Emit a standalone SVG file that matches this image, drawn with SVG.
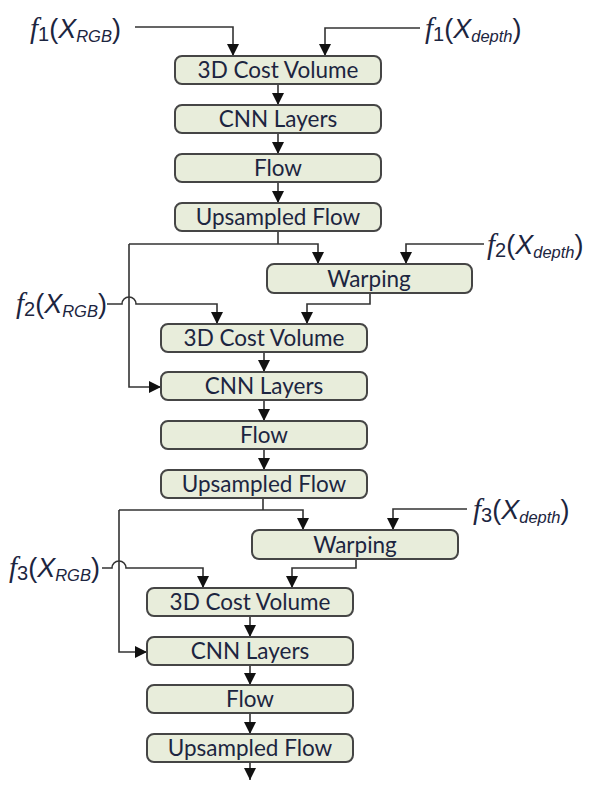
<svg xmlns="http://www.w3.org/2000/svg" width="591" height="795" viewBox="0 0 591 795">
<style>
.box{fill:#e8eddb;stroke:#454545;stroke-width:2}
.bt{font-family:Lato,"Liberation Sans",sans-serif;font-size:22.5px;fill:#1c2540;text-anchor:middle}
.lab{font-family:"Liberation Sans",sans-serif;font-size:27px;fill:#1c2540}
.fi{font-family:"Liberation Serif",serif;font-style:italic;font-size:29px}
.it{font-style:italic}
.sub{font-size:16.5px;font-style:italic}
.num{font-size:20px}
.con{fill:none;stroke:#333;stroke-width:1.6}
</style>
<defs>
<marker id="ah" markerUnits="userSpaceOnUse" markerWidth="13" markerHeight="13" viewBox="0 0 13 13" refX="12" refY="6.5" orient="auto">
<path d="M0,0.5 L12,6.5 L0,12.5 z" fill="#111"/>
</marker>
</defs>
<g id="connectors">
<path class="con" d="M135,27 H233 V56" marker-end="url(#ah)"/>
<path class="con" d="M420,28 H325 V56" marker-end="url(#ah)"/>
<path class="con" d="M278,84 V105" marker-end="url(#ah)"/>
<path class="con" d="M278,133 V154" marker-end="url(#ah)"/>
<path class="con" d="M278,182 V203" marker-end="url(#ah)"/>
<path class="con" d="M278,231 V244"/>
<path class="con" d="M129,244 H318 V264" marker-end="url(#ah)"/>
<path class="con" d="M129,244 V387 H161" marker-end="url(#ah)"/>
<path class="con" d="M484,244 H406 V264" marker-end="url(#ah)"/>
<path class="con" d="M370,293 V304 H307 V324" marker-end="url(#ah)"/>
<path class="con" d="M107,304 H122 A7,7 0 0 1 136,304 H217 V324" marker-end="url(#ah)"/>
<path class="con" d="M264,352 V372" marker-end="url(#ah)"/>
<path class="con" d="M264,400 V421" marker-end="url(#ah)"/>
<path class="con" d="M264,449 V470" marker-end="url(#ah)"/>
<path class="con" d="M263,498 V510"/>
<path class="con" d="M119,510 H303 V530" marker-end="url(#ah)"/>
<path class="con" d="M119,510 V652 H147" marker-end="url(#ah)"/>
<path class="con" d="M467,509 H393 V530" marker-end="url(#ah)"/>
<path class="con" d="M356,559 V568 H292 V588" marker-end="url(#ah)"/>
<path class="con" d="M102,568 H112 A7,7 0 0 1 126,568 H203 V588" marker-end="url(#ah)"/>
<path class="con" d="M250,616 V637" marker-end="url(#ah)"/>
<path class="con" d="M250,665 V685" marker-end="url(#ah)"/>
<path class="con" d="M250,713 V734" marker-end="url(#ah)"/>
<path class="con" d="M250,762 V780" marker-end="url(#ah)"/>
</g>
<g id="lab-f1rgb"><text class="lab" x="30" y="38"><tspan class="fi">f</tspan><tspan class="num" dy="3">1</tspan><tspan dy="-3">(</tspan><tspan class="it">X</tspan><tspan class="sub" dy="4">RGB</tspan><tspan dy="-4">)</tspan></text></g>
<g id="lab-f1depth"><text class="lab" x="425" y="38"><tspan class="fi">f</tspan><tspan class="num" dy="3">1</tspan><tspan dy="-3">(</tspan><tspan class="it">X</tspan><tspan class="sub" dy="4">depth</tspan><tspan dy="-4">)</tspan></text></g>
<g id="lab-f2depth"><text class="lab" x="487" y="254"><tspan class="fi">f</tspan><tspan class="num" dy="3">2</tspan><tspan dy="-3">(</tspan><tspan class="it">X</tspan><tspan class="sub" dy="4">depth</tspan><tspan dy="-4">)</tspan></text></g>
<g id="lab-f2rgb"><text class="lab" x="16" y="313"><tspan class="fi">f</tspan><tspan class="num" dy="3">2</tspan><tspan dy="-3">(</tspan><tspan class="it">X</tspan><tspan class="sub" dy="4">RGB</tspan><tspan dy="-4">)</tspan></text></g>
<g id="lab-f3depth"><text class="lab" x="473" y="519"><tspan class="fi">f</tspan><tspan class="num" dy="3">3</tspan><tspan dy="-3">(</tspan><tspan class="it">X</tspan><tspan class="sub" dy="4">depth</tspan><tspan dy="-4">)</tspan></text></g>
<g id="lab-f3rgb"><text class="lab" x="9" y="577"><tspan class="fi">f</tspan><tspan class="num" dy="3">3</tspan><tspan dy="-3">(</tspan><tspan class="it">X</tspan><tspan class="sub" dy="4">RGB</tspan><tspan dy="-4">)</tspan></text></g>
<g id="cost1"><rect class="box" x="175" y="56" width="206" height="28" rx="7"/><text class="bt" x="278" y="77.5">3D Cost Volume</text></g>
<g id="cnn1"><rect class="box" x="175" y="105" width="206" height="28" rx="7"/><text class="bt" x="278" y="126.5">CNN Layers</text></g>
<g id="flow1"><rect class="box" x="175" y="154" width="206" height="28" rx="7"/><text class="bt" x="278" y="175.5">Flow</text></g>
<g id="up1"><rect class="box" x="175" y="203" width="206" height="28" rx="7"/><text class="bt" x="278" y="224.5">Upsampled Flow</text></g>
<g id="warp2"><rect class="box" x="267" y="264" width="205" height="29" rx="7"/><text class="bt" x="369" y="286.5">Warping</text></g>
<g id="cost2"><rect class="box" x="161" y="324" width="206" height="28" rx="7"/><text class="bt" x="264" y="345.5">3D Cost Volume</text></g>
<g id="cnn2"><rect class="box" x="161" y="372" width="206" height="28" rx="7"/><text class="bt" x="264" y="393.5">CNN Layers</text></g>
<g id="flow2"><rect class="box" x="161" y="421" width="206" height="28" rx="7"/><text class="bt" x="264" y="442.5">Flow</text></g>
<g id="up2"><rect class="box" x="161" y="470" width="206" height="28" rx="7"/><text class="bt" x="264" y="491.5">Upsampled Flow</text></g>
<g id="warp3"><rect class="box" x="252" y="530" width="206" height="29" rx="7"/><text class="bt" x="355" y="552.5">Warping</text></g>
<g id="cost3"><rect class="box" x="147" y="588" width="206" height="28" rx="7"/><text class="bt" x="250" y="609.5">3D Cost Volume</text></g>
<g id="cnn3"><rect class="box" x="147" y="637" width="206" height="28" rx="7"/><text class="bt" x="250" y="658.5">CNN Layers</text></g>
<g id="flow3"><rect class="box" x="147" y="685" width="206" height="28" rx="7"/><text class="bt" x="250" y="706.5">Flow</text></g>
<g id="up3"><rect class="box" x="147" y="734" width="206" height="28" rx="7"/><text class="bt" x="250" y="755.5">Upsampled Flow</text></g>
</svg>
